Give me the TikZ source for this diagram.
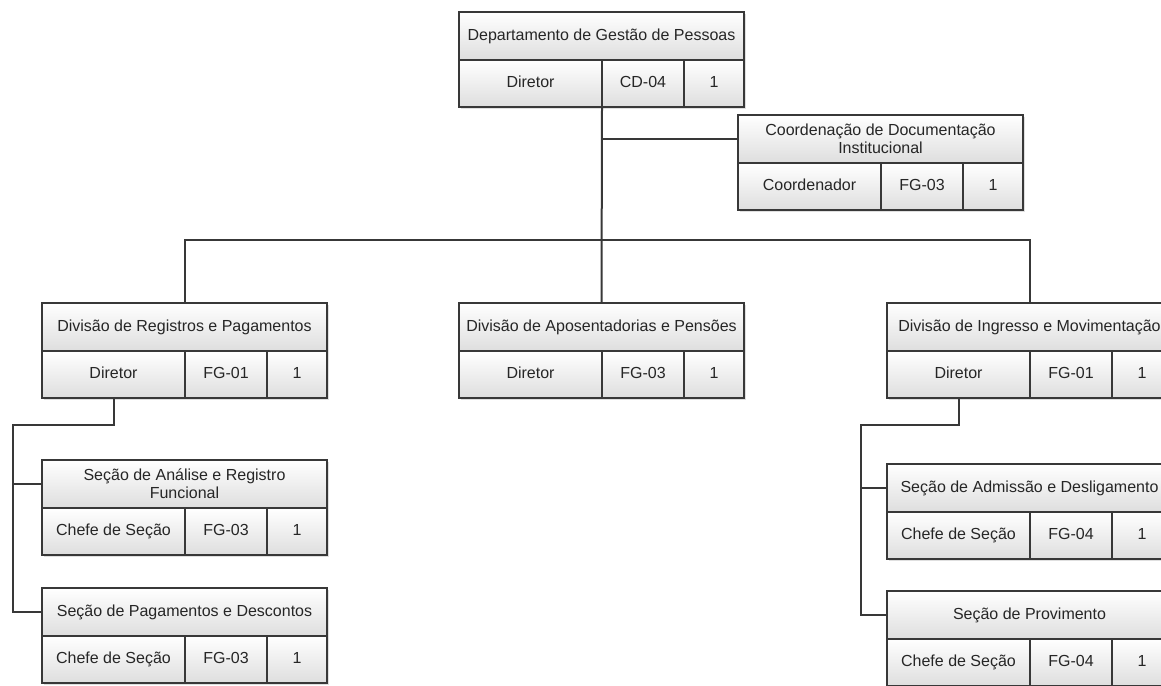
\documentclass[tikz,border=0pt]{standalone}
\usepackage{fontspec}
\setmainfont{Liberation Sans}
\usetikzlibrary{shadows}
\definecolor{linha}{HTML}{383838}
\definecolor{fundo}{HTML}{DEDEDE}
% box: name, top-left, title, post, code, number
\newcommand{\caixa}[6]{%
  \node[cab,anchor=north west] (#1) at (#2) {#3};
  \node[cel,minimum width=143pt,anchor=north west] (#1-r) at (#1.south west) {#4};
  \node[cel,minimum width=82pt,anchor=north west] (#1-c) at (#1-r.north east) {#5};
  \node[cel,minimum width=60pt,anchor=north west] (#1-n) at (#1-c.north east) {#6};
}
\begin{document}
\begin{tikzpicture}[x=1pt,y=-1pt,
    font=\fontsize{16}{18}\selectfont,
    base/.style={draw=linha,line width=1.8pt,outer sep=0pt,inner sep=2pt,
      top color=white,bottom color=fundo,text=black!85,
      drop shadow={shadow xshift=2pt,shadow yshift=-2pt,opacity=.25}},
    cab/.style={base,minimum width=285pt,minimum height=48pt,align=center},
    cel/.style={base,minimum height=47pt,text height=11.5pt,text depth=3.5pt},
    lig/.style={draw=linha,line width=2pt}]
\useasboundingbox (0,0) rectangle (1161,685);
\clip (0,0) rectangle (1161,685);

\caixa{dgp}{459,12}{Departamento de Gestão de Pessoas}{Diretor}{CD-04}{1}
\caixa{cdi}{738,115}{Coordenação de Documentação\\Institucional}{Coordenador}{FG-03}{1}
\caixa{drp}{42,303}{Divisão de Registros e Pagamentos}{Diretor}{FG-01}{1}
\caixa{dap}{459,303}{Divisão de Aposentadorias e Pensões}{Diretor}{FG-03}{1}
\caixa{dim}{887,303}{Divisão de Ingresso e Movimentação}{Diretor}{FG-01}{1}
\caixa{sar}{42,460}{Seção de Análise e Registro\\Funcional}{Chefe de Seção}{FG-03}{1}
\caixa{spd}{42,588}{Seção de Pagamentos e Descontos}{Chefe de Seção}{FG-03}{1}
\caixa{sad}{887,464}{Seção de Admissão e Desligamento}{Chefe de Seção}{FG-04}{1}
\caixa{spv}{887,591}{Seção de Provimento}{Chefe de Seção}{FG-04}{1}

\coordinate (bus) at (602,240);
\coordinate (esq) at (13,425);
\coordinate (dir) at (861,425);

\draw[lig] (dgp-r.south east)--(dap.north);
\draw[lig] (dgp-r.south east|-cdi.west)--(cdi.west);
\draw[lig] (drp.north)|-(bus)-|(dim.north);
\draw[lig] (drp-r.south)|-(esq)|-(spd.west);
\draw[lig] (esq|-sar.west)--(sar.west);
\draw[lig] (dim-r.south)|-(dir)|-(spv.west);
\draw[lig] (dir|-sad.west)--(sad.west);
\end{tikzpicture}
\end{document}
